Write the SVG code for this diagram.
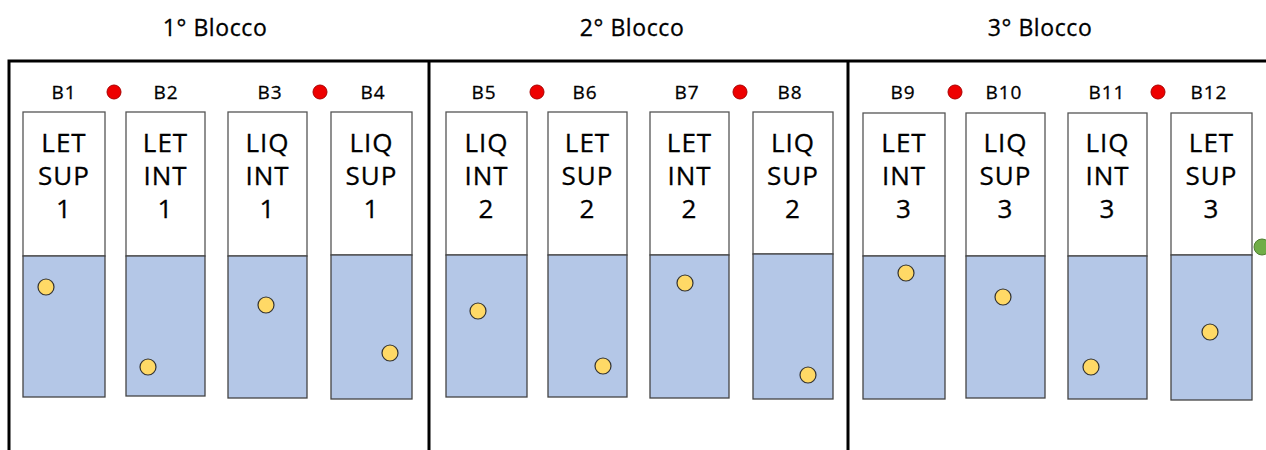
<svg xmlns="http://www.w3.org/2000/svg" width="1266" height="450" viewBox="0 0 1266 450">
<style>
.t{font-family:"Open Sans","DejaVu Sans",sans-serif;fill:#000;text-anchor:middle;stroke:#000;stroke-width:0.3}
.title{font-size:23px;letter-spacing:0.6px}
.lab{font-size:19px;letter-spacing:1px}
.tl{font-size:26px;letter-spacing:1px}
.top{fill:#fff;stroke:#555;stroke-width:1.3}
.liq{fill:#b4c7e7;stroke:#444;stroke-width:1.3}
.y{fill:#ffd966;stroke:#333;stroke-width:1.2}
.r{fill:#e00;stroke:#a00;stroke-width:1}
.frame{stroke:#000;stroke-width:3;fill:none}
</style>
<rect width="1266" height="450" fill="#fff"/>
<g id="titles">
<text class="t title" x="215" y="36">1° Blocco</text>
<text class="t title" x="632" y="36">2° Blocco</text>
<text class="t title" x="1040" y="36">3° Blocco</text>
</g>
<g id="frame" class="frame">
<path d="M9 450 V61 H1266"/>
<path d="M429 61 V450"/>
<path d="M848 61 V450"/>
</g>
<g id="labels">
<text class="t lab" x="64" y="99">B1</text>
<text class="t lab" x="166" y="99">B2</text>
<text class="t lab" x="270" y="99">B3</text>
<text class="t lab" x="373" y="99">B4</text>
<text class="t lab" x="484" y="99">B5</text>
<text class="t lab" x="585" y="99">B6</text>
<text class="t lab" x="687" y="99">B7</text>
<text class="t lab" x="790" y="99">B8</text>
<text class="t lab" x="903" y="99">B9</text>
<text class="t lab" x="1004" y="99">B10</text>
<text class="t lab" x="1107" y="99">B11</text>
<text class="t lab" x="1209" y="99">B12</text>
</g>
<g id="reddots">
<circle class="r" cx="114" cy="92" r="7"/>
<circle class="r" cx="320" cy="92" r="7"/>
<circle class="r" cx="537" cy="92" r="7"/>
<circle class="r" cx="740" cy="92" r="7"/>
<circle class="r" cx="955" cy="92" r="7"/>
<circle class="r" cx="1158" cy="92" r="7"/>
</g>
<g id="tube1"><rect class="top" x="23" y="112" width="82" height="144"/><rect class="liq" x="23" y="256" width="82" height="141"/><circle class="y" cx="46" cy="287" r="8"/>
<text class="t tl" x="64" y="152">LET</text><text class="t tl" x="64" y="185">SUP</text><text class="t tl" x="64" y="218">1</text></g>
<g id="tube2"><rect class="top" x="126" y="112" width="79" height="144"/><rect class="liq" x="126" y="256" width="79" height="140"/><circle class="y" cx="148" cy="367" r="8"/>
<text class="t tl" x="165.5" y="152">LET</text><text class="t tl" x="165.5" y="185">INT</text><text class="t tl" x="165.5" y="218">1</text></g>
<g id="tube3"><rect class="top" x="228" y="112" width="79" height="144"/><rect class="liq" x="228" y="256" width="79" height="142"/><circle class="y" cx="266" cy="305" r="8"/>
<text class="t tl" x="267.5" y="152">LIQ</text><text class="t tl" x="267.5" y="185">INT</text><text class="t tl" x="267.5" y="218">1</text></g>
<g id="tube4"><rect class="top" x="331" y="112" width="81" height="143"/><rect class="liq" x="331" y="255" width="81" height="144"/><circle class="y" cx="390" cy="353" r="8"/>
<text class="t tl" x="371.5" y="152">LIQ</text><text class="t tl" x="371.5" y="185">SUP</text><text class="t tl" x="371.5" y="218">1</text></g>
<g id="tube5"><rect class="top" x="446" y="112" width="81" height="143"/><rect class="liq" x="446" y="255" width="81" height="142"/><circle class="y" cx="478" cy="311" r="8"/>
<text class="t tl" x="486.5" y="152">LIQ</text><text class="t tl" x="486.5" y="185">INT</text><text class="t tl" x="486.5" y="218">2</text></g>
<g id="tube6"><rect class="top" x="548" y="112" width="79" height="143"/><rect class="liq" x="548" y="255" width="79" height="142"/><circle class="y" cx="603" cy="366" r="8"/>
<text class="t tl" x="587.5" y="152">LET</text><text class="t tl" x="587.5" y="185">SUP</text><text class="t tl" x="587.5" y="218">2</text></g>
<g id="tube7"><rect class="top" x="650" y="112" width="79" height="143"/><rect class="liq" x="650" y="255" width="79" height="143"/><circle class="y" cx="685" cy="283" r="8"/>
<text class="t tl" x="689.5" y="152">LET</text><text class="t tl" x="689.5" y="185">INT</text><text class="t tl" x="689.5" y="218">2</text></g>
<g id="tube8"><rect class="top" x="753" y="112" width="80" height="142"/><rect class="liq" x="753" y="254" width="80" height="145"/><circle class="y" cx="808" cy="375" r="8"/>
<text class="t tl" x="793" y="152">LIQ</text><text class="t tl" x="793" y="185">SUP</text><text class="t tl" x="793" y="218">2</text></g>
<g id="tube9"><rect class="top" x="863" y="113" width="82" height="143"/><rect class="liq" x="863" y="256" width="82" height="143"/><circle class="y" cx="906" cy="273" r="8"/>
<text class="t tl" x="904" y="152">LET</text><text class="t tl" x="904" y="185">INT</text><text class="t tl" x="904" y="218">3</text></g>
<g id="tube10"><rect class="top" x="966" y="113" width="79" height="143"/><rect class="liq" x="966" y="256" width="79" height="142"/><circle class="y" cx="1003" cy="297" r="8"/>
<text class="t tl" x="1005.5" y="152">LIQ</text><text class="t tl" x="1005.5" y="185">SUP</text><text class="t tl" x="1005.5" y="218">3</text></g>
<g id="tube11"><rect class="top" x="1068" y="113" width="79" height="143"/><rect class="liq" x="1068" y="256" width="79" height="143"/><circle class="y" cx="1091" cy="367" r="8"/>
<text class="t tl" x="1107.5" y="152">LIQ</text><text class="t tl" x="1107.5" y="185">INT</text><text class="t tl" x="1107.5" y="218">3</text></g>
<g id="tube12"><rect class="top" x="1171" y="113" width="81" height="142"/><rect class="liq" x="1171" y="255" width="81" height="145"/><circle class="y" cx="1210" cy="332" r="8"/>
<text class="t tl" x="1211.5" y="152">LET</text><text class="t tl" x="1211.5" y="185">SUP</text><text class="t tl" x="1211.5" y="218">3</text></g>
<g id="greendot"><circle cx="1262" cy="247" r="8" fill="#70ad47" stroke="#507e32" stroke-width="1"/></g>
</svg>
